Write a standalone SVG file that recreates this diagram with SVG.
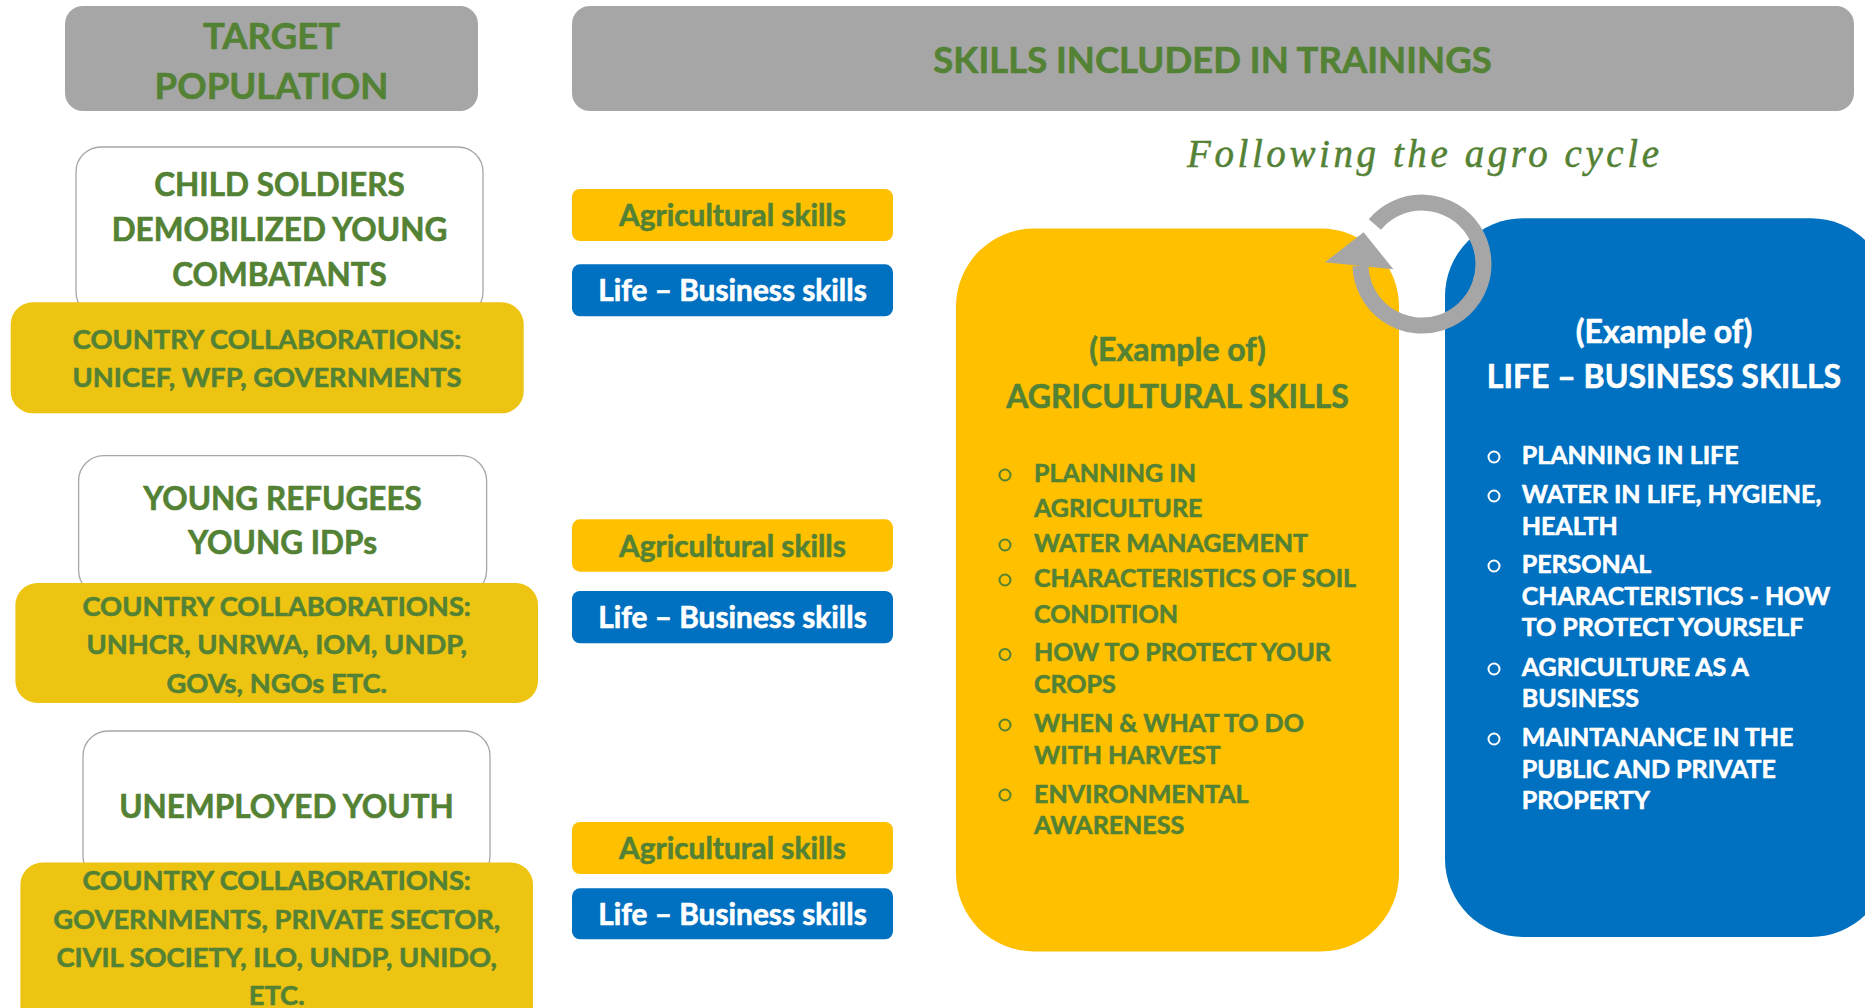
<svg xmlns="http://www.w3.org/2000/svg" width="1865" height="1008" viewBox="0 0 1865 1008">
<defs>
<style>
text{font-family:Lato,"Open Sans","Liberation Sans",sans-serif;font-weight:700;stroke-width:0.6;stroke-linejoin:round}
.gr{fill:#548235;stroke:#548235}
.wt{fill:#ffffff;stroke:#ffffff}
.c{text-anchor:middle}
.hdr{fill:#A6A6A6}
.pop{fill:#ffffff;stroke:#A6A6A6;stroke-width:1.3}
.col{fill:#EEC412}
.agri{fill:#FFC000}
.life{fill:#0070C0}
.h{font-size:36.5px}
.pt{font-size:31.5px}
.ct{font-size:27.3px}
.pl{font-size:29.8px}
.bt{font-size:32px}
.li{font-size:25px}
.bg{fill:none;stroke:#548235;stroke-width:2}
.bw{fill:none;stroke:#ffffff;stroke-width:2}
.cyc{fill:none;stroke:#A6A6A6;stroke-width:16}
.agro{font-family:"Liberation Serif","Times New Roman",serif;font-style:italic;font-weight:400;font-size:39px;fill:#548235;stroke:#548235;stroke-width:0.5}
</style>
</defs>
<rect width="1865" height="1008" fill="#ffffff"/>

<g id="target-population-header">
<rect class="hdr" x="65" y="6" width="413" height="105" rx="18"/>
<text class="gr c h" x="271.5" y="48.5">TARGET</text>
<text class="gr c h" x="271.5" y="99">POPULATION</text>
</g>

<g id="skills-header">
<rect class="hdr" x="572" y="6" width="1282" height="105" rx="18"/>
<text class="gr c h" x="1212.5" y="72.5">SKILLS INCLUDED IN TRAININGS</text>
</g>

<g id="agro-cycle-label">
<text class="agro" x="1187" y="166.5" textLength="472" lengthAdjust="spacing">Following the agro cycle</text>
</g>

<g id="child-soldiers">
<rect class="pop" x="76" y="147" width="407" height="170" rx="25"/>
<text class="gr c pt" x="279.5" y="196">CHILD SOLDIERS</text>
<text class="gr c pt" x="279.5" y="240.7">DEMOBILIZED YOUNG</text>
<text class="gr c pt" x="279.5" y="285.7">COMBATANTS</text>
</g>
<g id="collaborations-1">
<rect class="col" x="10.7" y="302.3" width="513" height="111" rx="22"/>
<text class="gr c ct" x="267" y="349">COUNTRY COLLABORATIONS:</text>
<text class="gr c ct" x="267" y="387.3">UNICEF, WFP, GOVERNMENTS</text>
</g>

<g id="refugees">
<rect class="pop" x="78.6" y="455.6" width="408" height="140" rx="25"/>
<text class="gr c pt" x="282.5" y="510">YOUNG REFUGEES</text>
<text class="gr c pt" x="282.5" y="554.2">YOUNG IDPs</text>
</g>
<g id="collaborations-2">
<rect class="col" x="15.4" y="583" width="522.6" height="120" rx="22"/>
<text class="gr c ct" x="276.7" y="615.7">COUNTRY COLLABORATIONS:</text>
<text class="gr c ct" x="276.7" y="654.3">UNHCR, UNRWA, IOM, UNDP,</text>
<text class="gr c ct" x="276.7" y="692.6">GOVs, NGOs ETC.</text>
</g>

<g id="unemployed-youth">
<rect class="pop" x="83" y="731" width="407" height="150" rx="25"/>
<text class="gr c pt" x="286.5" y="818">UNEMPLOYED YOUTH</text>
</g>
<g id="collaborations-3">
<rect class="col" x="20.4" y="862.5" width="512.6" height="170" rx="22"/>
<text class="gr c ct" x="276.7" y="889.8">COUNTRY COLLABORATIONS:</text>
<text class="gr c ct" x="276.7" y="928.8">GOVERNMENTS, PRIVATE SECTOR,</text>
<text class="gr c ct" x="276.7" y="966.7">CIVIL SOCIETY, ILO, UNDP, UNIDO,</text>
<text class="gr c ct" x="276.7" y="1005">ETC.</text>
</g>

<g id="agri-skills-1">
<rect class="agri" x="572" y="189" width="321" height="52" rx="8"/>
<text class="gr c pl" x="732.5" y="226">Agricultural skills</text>
</g>
<g id="life-skills-1">
<rect class="life" x="572" y="264.3" width="321" height="52" rx="8"/>
<text class="wt c pl" x="732.5" y="301">Life – Business skills</text>
</g>
<g id="agri-skills-2">
<rect class="agri" x="572" y="519.3" width="321" height="52.4" rx="8"/>
<text class="gr c pl" x="732.5" y="556.5">Agricultural skills</text>
</g>
<g id="life-skills-2">
<rect class="life" x="572" y="591" width="321" height="52.3" rx="8"/>
<text class="wt c pl" x="732.5" y="628">Life – Business skills</text>
</g>
<g id="agri-skills-3">
<rect class="agri" x="572" y="822" width="321" height="52" rx="8"/>
<text class="gr c pl" x="732.5" y="859">Agricultural skills</text>
</g>
<g id="life-skills-3">
<rect class="life" x="572" y="888.3" width="321" height="51" rx="8"/>
<text class="wt c pl" x="732.5" y="925">Life – Business skills</text>
</g>

<g id="agricultural-skills-examples">
<rect class="agri" x="956" y="228.5" width="443" height="723" rx="78"/>
<text class="gr c bt" x="1177.5" y="361">(Example of)</text>
<text class="gr c bt" x="1177.5" y="408">AGRICULTURAL SKILLS</text>
<circle class="bg" cx="1005" cy="475" r="5.5"/>
<circle class="bg" cx="1005" cy="545" r="5.5"/>
<circle class="bg" cx="1005" cy="580" r="5.5"/>
<circle class="bg" cx="1005" cy="654.5" r="5.5"/>
<circle class="bg" cx="1005" cy="725" r="5.5"/>
<circle class="bg" cx="1005" cy="795" r="5.5"/>
<text class="gr li" x="1034" y="482">PLANNING IN</text>
<text class="gr li" x="1034" y="516.8">AGRICULTURE</text>
<text class="gr li" x="1034" y="551.8">WATER MANAGEMENT</text>
<text class="gr li" x="1034" y="586.8">CHARACTERISTICS OF SOIL</text>
<text class="gr li" x="1034" y="622.5">CONDITION</text>
<text class="gr li" x="1034" y="661.4">HOW TO PROTECT YOUR</text>
<text class="gr li" x="1034" y="692.9">CROPS</text>
<text class="gr li" x="1034" y="732">WHEN &amp; WHAT TO DO</text>
<text class="gr li" x="1034" y="763.6">WITH HARVEST</text>
<text class="gr li" x="1034" y="802.5">ENVIRONMENTAL</text>
<text class="gr li" x="1034" y="834">AWARENESS</text>
</g>

<g id="life-business-skills-examples">
<rect class="life" x="1445" y="218.3" width="444" height="718.7" rx="78"/>
<text class="wt c bt" x="1664" y="343">(Example of)</text>
<text class="wt c bt" x="1664" y="387.7">LIFE – BUSINESS SKILLS</text>
<circle class="bw" cx="1494" cy="457" r="5.5"/>
<circle class="bw" cx="1494" cy="496" r="5.5"/>
<circle class="bw" cx="1494" cy="566" r="5.5"/>
<circle class="bw" cx="1494" cy="669" r="5.5"/>
<circle class="bw" cx="1494" cy="739" r="5.5"/>
<text class="wt li" x="1521.7" y="463.9">PLANNING IN LIFE</text>
<text class="wt li" x="1521.7" y="502.5">WATER IN LIFE, HYGIENE,</text>
<text class="wt li" x="1521.7" y="534.6">HEALTH</text>
<text class="wt li" x="1521.7" y="572.9">PERSONAL</text>
<text class="wt li" x="1521.7" y="605">CHARACTERISTICS - HOW</text>
<text class="wt li" x="1521.7" y="636.4">TO PROTECT YOURSELF</text>
<text class="wt li" x="1521.7" y="675.7">AGRICULTURE AS A</text>
<text class="wt li" x="1521.7" y="706.8">BUSINESS</text>
<text class="wt li" x="1521.7" y="746">MAINTANANCE IN THE</text>
<text class="wt li" x="1521.7" y="777.5">PUBLIC AND PRIVATE</text>
<text class="wt li" x="1521.7" y="808.6">PROPERTY</text>
</g>

<g id="connectors">
<path class="cyc" d="M1374.9,224.5 A61.5,61.5 0 1 1 1360.5,266.1"/>
<polygon fill="#A6A6A6" points="1325,262.3 1393.4,269.3 1363.6,232.3"/>
</g>
</svg>
